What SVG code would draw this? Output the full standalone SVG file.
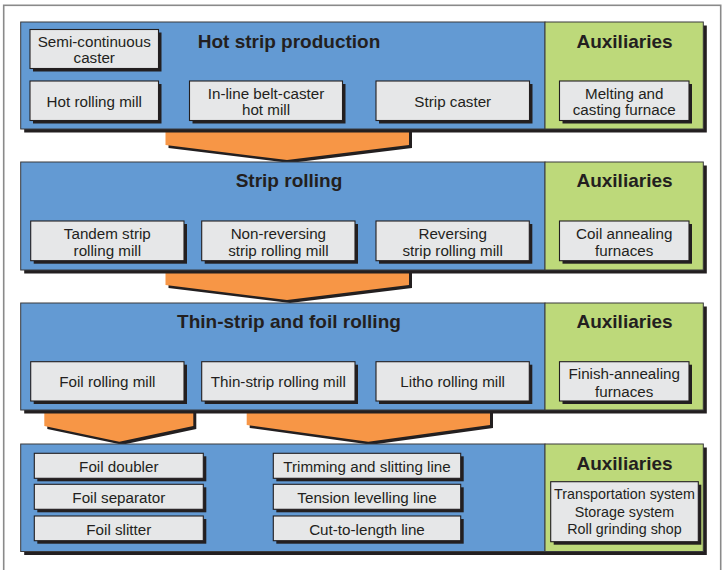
<svg xmlns="http://www.w3.org/2000/svg" width="722" height="570" viewBox="0 0 722 570">
<style>
.frame{fill:#ffffff;stroke:#8a8a8a;stroke-width:1.6}
.sh{fill:#231f20}
.blue{fill:#639ad3;stroke:#3a3a3c;stroke-width:1}
.green{fill:#bdd97a;stroke:#3a3a3c;stroke-width:1}
.box{fill:#e6e7e8;stroke:#231f20;stroke-width:1.1}
.arrow{fill:#f79646}
.ash{fill:#231f20}
.t{font-family:"Liberation Sans",Arial,Helvetica,sans-serif;font-size:15.2px;fill:#231f20;text-anchor:middle}
.ts{font-size:14.3px}
.h{font-family:"Liberation Sans",Arial,Helvetica,sans-serif;font-size:19px;font-weight:bold;fill:#231f20;text-anchor:middle}
</style>
<rect class="frame" x="3.7" y="5.3" width="717" height="600"/>
<g id="connectors">
  <polygon class="ash" points="168.5,129 412,129 412,148 290,163 168.5,148"/>
  <polygon class="arrow" points="165.5,129 409,129 409,145 287,160 165.5,145"/>
  <polygon class="ash" points="168.5,270 412,270 412,288 290,303 168.5,288"/>
  <polygon class="arrow" points="165.5,270 409,270 409,285 287,300 165.5,285"/>
  <polygon class="ash" points="47.3,410 196.3,410 196.3,429 122.3,444.7 47.3,429"/>
  <polygon class="arrow" points="44.3,410 193.3,410 193.3,426 119.3,441.7 44.3,426"/>
  <polygon class="ash" points="249.7,410 493,410 493,428 371.3,444.7 249.7,428"/>
  <polygon class="arrow" points="246.7,410 490,410 490,425 368.3,441.7 246.7,425"/>
</g>
<g id="band1">
  <rect class="sh" x="24.2" y="25.5" width="682.6" height="107"/>
  <rect class="blue" x="20.7" y="22" width="524.3" height="107"/>
  <rect class="green" x="545" y="22" width="158.3" height="107"/>
  <text class="h" x="289" y="48.3">Hot strip production</text>
  <text class="h" x="624.5" y="48.3">Auxiliaries</text>
</g>
<g id="semi-continuous-caster">
  <rect class="sh" x="33" y="32.5" width="128.5" height="39"/>
  <rect class="box" x="30" y="29.5" width="128.5" height="39"/>
  <text class="t" x="94.25" y="46.5">Semi-continuous</text>
  <text class="t" x="94.25" y="63">caster</text>
</g>
<g id="hot-rolling-mill">
  <rect class="sh" x="33" y="84" width="128.5" height="39.5"/>
  <rect class="box" x="30" y="81" width="128.5" height="39.5"/>
  <text class="t" x="94.25" y="106.7">Hot rolling mill</text>
</g>
<g id="in-line-belt-caster">
  <rect class="sh" x="192.5" y="84" width="153" height="39.5"/>
  <rect class="box" x="189.5" y="81" width="153" height="39.5"/>
  <text class="t" x="266" y="99">In-line belt-caster</text>
  <text class="t" x="266" y="115.3">hot mill</text>
</g>
<g id="strip-caster">
  <rect class="sh" x="379" y="84" width="153.5" height="39.5"/>
  <rect class="box" x="376" y="81" width="153.5" height="39.5"/>
  <text class="t" x="452.75" y="106.7">Strip caster</text>
</g>
<g id="melting-furnace">
  <rect class="sh" x="562.5" y="84" width="129.5" height="39.5"/>
  <rect class="box" x="559.5" y="81" width="129.5" height="39.5"/>
  <text class="t" x="624.25" y="99">Melting and</text>
  <text class="t" x="624.25" y="115.3">casting furnace</text>
</g>
<g id="band2">
  <rect class="sh" x="24.2" y="165.5" width="682.6" height="108"/>
  <rect class="blue" x="20.7" y="162" width="524.3" height="108"/>
  <rect class="green" x="545" y="162" width="158.3" height="108"/>
  <text class="h" x="289" y="187">Strip rolling</text>
  <text class="h" x="624.5" y="187">Auxiliaries</text>
</g>
<g id="tandem-strip">
  <rect class="sh" x="33.7" y="224" width="153.3" height="39.7"/>
  <rect class="box" x="30.7" y="221" width="153.3" height="39.7"/>
  <text class="t" x="107.35" y="239.3">Tandem strip</text>
  <text class="t" x="107.35" y="255.7">rolling mill</text>
</g>
<g id="non-reversing">
  <rect class="sh" x="204.7" y="224" width="153.3" height="39.7"/>
  <rect class="box" x="201.7" y="221" width="153.3" height="39.7"/>
  <text class="t" x="278.35" y="239.3">Non-reversing</text>
  <text class="t" x="278.35" y="255.7">strip rolling mill</text>
</g>
<g id="reversing">
  <rect class="sh" x="379" y="224" width="153.3" height="39.7"/>
  <rect class="box" x="376" y="221" width="153.3" height="39.7"/>
  <text class="t" x="452.65" y="239.3">Reversing</text>
  <text class="t" x="452.65" y="255.7">strip rolling mill</text>
</g>
<g id="coil-annealing">
  <rect class="sh" x="562.5" y="224" width="129.5" height="39.7"/>
  <rect class="box" x="559.5" y="221" width="129.5" height="39.7"/>
  <text class="t" x="624.25" y="239.3">Coil annealing</text>
  <text class="t" x="624.25" y="255.7">furnaces</text>
</g>
<g id="band3">
  <rect class="sh" x="24.2" y="306.5" width="682.6" height="107"/>
  <rect class="blue" x="20.7" y="303" width="524.3" height="107"/>
  <rect class="green" x="545" y="303" width="158.3" height="107"/>
  <text class="h" x="289" y="328.3">Thin-strip and foil rolling</text>
  <text class="h" x="624.5" y="328.3">Auxiliaries</text>
</g>
<g id="foil-rolling-mill">
  <rect class="sh" x="33.7" y="364.7" width="153.3" height="39.3"/>
  <rect class="box" x="30.7" y="361.7" width="153.3" height="39.3"/>
  <text class="t" x="107.35" y="387.3">Foil rolling mill</text>
</g>
<g id="thin-strip-rolling-mill">
  <rect class="sh" x="204.7" y="364.7" width="153.3" height="39.3"/>
  <rect class="box" x="201.7" y="361.7" width="153.3" height="39.3"/>
  <text class="t" x="278.35" y="387.3">Thin-strip rolling mill</text>
</g>
<g id="litho-rolling-mill">
  <rect class="sh" x="379" y="364.7" width="153.3" height="39.3"/>
  <rect class="box" x="376" y="361.7" width="153.3" height="39.3"/>
  <text class="t" x="452.65" y="387.3">Litho rolling mill</text>
</g>
<g id="finish-annealing">
  <rect class="sh" x="562.5" y="364.7" width="129.5" height="39.3"/>
  <rect class="box" x="559.5" y="361.7" width="129.5" height="39.3"/>
  <text class="t" x="624.25" y="379.3">Finish-annealing</text>
  <text class="t" x="624.25" y="396.7">furnaces</text>
</g>
<g id="band4">
  <rect class="sh" x="24.2" y="447.5" width="682.6" height="107.5"/>
  <rect class="blue" x="20.7" y="444" width="524.3" height="107.5"/>
  <rect class="green" x="545" y="444" width="158.3" height="107.5"/>
  <text class="h" x="624.5" y="469.5">Auxiliaries</text>
</g>
<g id="foil-doubler">
  <rect class="sh" x="37.3" y="456.3" width="169" height="25"/>
  <rect class="box" x="34.3" y="453.3" width="169" height="25"/>
  <text class="t" x="118.8" y="471.5">Foil doubler</text>
</g>
<g id="foil-separator">
  <rect class="sh" x="37.3" y="487.3" width="169" height="25"/>
  <rect class="box" x="34.3" y="484.3" width="169" height="25"/>
  <text class="t" x="118.8" y="503">Foil separator</text>
</g>
<g id="foil-slitter">
  <rect class="sh" x="37.3" y="519" width="169" height="24.7"/>
  <rect class="box" x="34.3" y="516" width="169" height="24.7"/>
  <text class="t" x="118.8" y="534.5">Foil slitter</text>
</g>
<g id="trimming-slitting">
  <rect class="sh" x="276.3" y="456.3" width="187.4" height="25"/>
  <rect class="box" x="273.3" y="453.3" width="187.4" height="25"/>
  <text class="t" x="367" y="471.5">Trimming and slitting line</text>
</g>
<g id="tension-levelling">
  <rect class="sh" x="276.3" y="487.3" width="187.4" height="25"/>
  <rect class="box" x="273.3" y="484.3" width="187.4" height="25"/>
  <text class="t" x="367" y="503">Tension levelling line</text>
</g>
<g id="cut-to-length">
  <rect class="sh" x="276.3" y="519" width="187.4" height="24.7"/>
  <rect class="box" x="273.3" y="516" width="187.4" height="24.7"/>
  <text class="t" x="367" y="534.5">Cut-to-length line</text>
</g>
<g id="aux-systems">
  <rect class="sh" x="553.7" y="484.7" width="147.6" height="60"/>
  <rect class="box" x="550.7" y="481.7" width="147.6" height="60"/>
  <text class="t ts" x="624.5" y="499">Transportation system</text>
  <text class="t ts" x="624.5" y="516.5">Storage system</text>
  <text class="t ts" x="624.5" y="534">Roll grinding shop</text>
</g>
</svg>
